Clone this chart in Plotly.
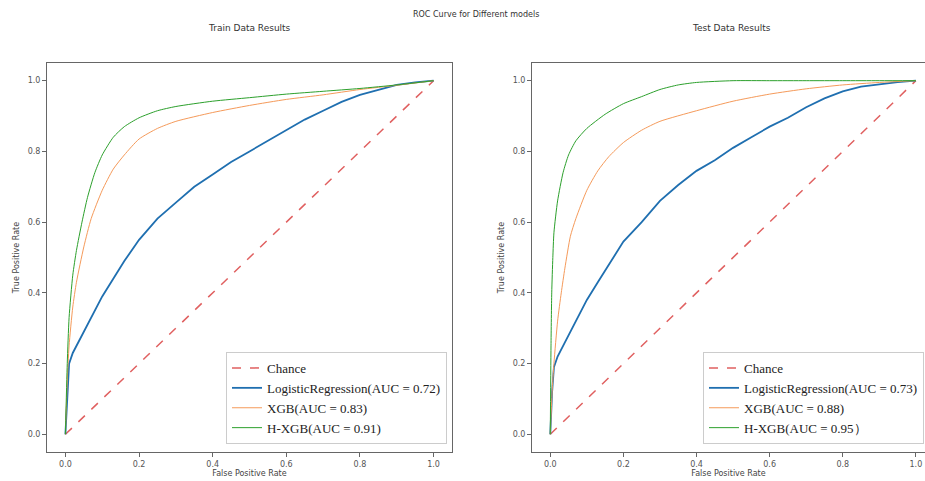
import plotly.graph_objects as go

# ---------------- data ----------------
chance_x = [0.0, 1.0]
chance_y = [0.0, 1.0]

train_lr_fpr = [0, 0.005, 0.01, 0.02, 0.04, 0.06, 0.08, 0.1, 0.13, 0.16, 0.2, 0.25, 0.3, 0.35, 0.4,
                0.45, 0.5, 0.55, 0.6, 0.65, 0.7, 0.75, 0.8, 0.85, 0.9, 0.95, 1.0]
train_lr_tpr = [0, 0.12, 0.2, 0.23, 0.27, 0.31, 0.35, 0.39, 0.44, 0.49, 0.55, 0.61, 0.655, 0.7, 0.735,
                0.77, 0.8, 0.83, 0.86, 0.89, 0.915, 0.94, 0.96, 0.975, 0.988, 0.995, 1.0]
train_xgb_fpr = [0, 0.005, 0.01, 0.02, 0.03, 0.05, 0.07, 0.1, 0.13, 0.16, 0.2, 0.25, 0.3, 0.4, 0.5,
                 0.6, 0.7, 0.8, 0.9, 1.0]
train_xgb_tpr = [0, 0.15, 0.25, 0.36, 0.43, 0.53, 0.61, 0.69, 0.75, 0.79, 0.835, 0.865, 0.885, 0.91, 0.93,
                 0.947, 0.96, 0.975, 0.987, 1.0]
train_hxgb_fpr = [0, 0.005, 0.01, 0.02, 0.03, 0.045, 0.06, 0.08, 0.1, 0.13, 0.16, 0.2, 0.25, 0.3, 0.4,
                  0.5, 0.6, 0.7, 0.8, 0.9, 1.0]
train_hxgb_tpr = [0, 0.2, 0.33, 0.45, 0.52, 0.6, 0.67, 0.74, 0.79, 0.84, 0.87, 0.895, 0.915, 0.927, 0.942,
                  0.952, 0.962, 0.97, 0.978, 0.988, 1.0]

test_lr_fpr = [0, 0.005, 0.01, 0.02, 0.04, 0.06, 0.08, 0.1, 0.13, 0.16, 0.2, 0.25, 0.3, 0.35, 0.4,
               0.45, 0.5, 0.55, 0.6, 0.65, 0.7, 0.75, 0.8, 0.85, 0.9, 0.95, 1.0]
test_lr_tpr = [0, 0.12, 0.19, 0.22, 0.26, 0.3, 0.34, 0.38, 0.43, 0.48, 0.545, 0.6, 0.66, 0.705, 0.745,
               0.775, 0.81, 0.84, 0.87, 0.895, 0.925, 0.95, 0.97, 0.983, 0.99, 0.996, 1.0]
test_xgb_fpr = [0, 0.005, 0.01, 0.02, 0.03, 0.04, 0.055, 0.07, 0.1, 0.13, 0.16, 0.2, 0.25, 0.3, 0.4,
                0.5, 0.6, 0.7, 0.8, 0.9, 1.0]
test_xgb_tpr = [0, 0.12, 0.2, 0.32, 0.4, 0.47, 0.56, 0.61, 0.69, 0.745, 0.785, 0.825, 0.86, 0.885, 0.915,
                0.942, 0.962, 0.977, 0.988, 0.995, 1.0]
test_hxgb_fpr = [0, 0.002, 0.004, 0.007, 0.01, 0.02, 0.035, 0.05, 0.07, 0.1, 0.15, 0.2, 0.25, 0.3, 0.35,
                 0.4, 0.5, 0.6, 0.7, 0.8, 0.9, 1.0]
test_hxgb_tpr = [0, 0.25, 0.4, 0.5, 0.57, 0.66, 0.74, 0.79, 0.83, 0.865, 0.905, 0.935, 0.955, 0.975, 0.988,
                 0.995, 1.0, 1.0, 1.0, 1.0, 1.0, 1.0]

train_names = ["Chance", "LogisticRegression(AUC = 0.72)", "XGB(AUC = 0.83)", "H-XGB(AUC = 0.91)"]
test_names = ["Chance", "LogisticRegression(AUC = 0.73)", "XGB(AUC = 0.88)", "H-XGB(AUC = 0.95）"]
tick_vals = [0.0, 0.2, 0.4, 0.6, 0.8, 1.0]
tick_text = ["0.0", "0.2", "0.4", "0.6", "0.8", "1.0"]

# ---------------- styling ----------------
C_CH = "#e06060"
C_LR = "#1f6fb0"
C_XGB = "#f59a5a"
C_HX = "#2ca02c"
W, H = 925, 481

fig = go.Figure()

def add_panel(xa, ya, lg, names, lr, xgb, hx):
    fig.add_trace(go.Scatter(x=chance_x, y=chance_y, mode="lines", name=names[0], xaxis=xa, yaxis=ya,
                             legend=lg, line=dict(color=C_CH, width=1.5, dash="dash")))
    fig.add_trace(go.Scatter(x=lr[0], y=lr[1], mode="lines", name=names[1], xaxis=xa, yaxis=ya,
                             legend=lg, line=dict(color=C_LR, width=1.8)))
    fig.add_trace(go.Scatter(x=xgb[0], y=xgb[1], mode="lines", name=names[2], xaxis=xa, yaxis=ya,
                             legend=lg, line=dict(color=C_XGB, width=1, shape="spline", smoothing=0.6)))
    fig.add_trace(go.Scatter(x=hx[0], y=hx[1], mode="lines", name=names[3], xaxis=xa, yaxis=ya,
                             legend=lg, line=dict(color=C_HX, width=1, shape="spline", smoothing=0.6)))

add_panel("x", "y", "legend", train_names, (train_lr_fpr, train_lr_tpr),
          (train_xgb_fpr, train_xgb_tpr), (train_hxgb_fpr, train_hxgb_tpr))
add_panel("x2", "y2", "legend2", test_names, (test_lr_fpr, test_lr_tpr),
          (test_xgb_fpr, test_xgb_tpr), (test_hxgb_fpr, test_hxgb_tpr))

tickfont = dict(family="DejaVu Sans", size=8, color="#555")
titlefont = dict(family="DejaVu Sans", size=8, color="#444")
common = dict(showline=True, mirror=True, linecolor="#666", linewidth=1, showgrid=False, zeroline=False,
              ticks="outside", ticklen=4, tickcolor="#666", tickfont=tickfont, tickvals=tick_vals,
              ticktext=tick_text, automargin=False)

legfont = dict(family="Liberation Serif", size=13, color="#222")
ydom = [(H - 452) / H, (H - 63) / H]
fig.update_layout(
    width=W, height=H, margin=dict(l=0, r=0, t=0, b=0, autoexpand=False),
    paper_bgcolor="white", plot_bgcolor="white",
    xaxis=dict(domain=[47 / W, 452 / W], range=[-0.05, 1.05], anchor="y",
               title=dict(text="False Positive Rate", font=titlefont, standoff=2), **common),
    yaxis=dict(domain=ydom, range=[-0.05, 1.05], anchor="x",
               title=dict(text="True Positive Rate", font=titlefont, standoff=6), **common),
    xaxis2=dict(domain=[532 / W, 1.0], range=[-0.05, 1.025], anchor="y2",
                title=dict(text="False Positive Rate", font=titlefont, standoff=2), **common),
    yaxis2=dict(domain=ydom, range=[-0.05, 1.05], anchor="x2",
                title=dict(text="True Positive Rate", font=titlefont, standoff=6), **common),
    legend=dict(x=447 / W, y=(H - 444) / H, xanchor="right", yanchor="bottom", font=legfont,
                bordercolor="#cccccc", borderwidth=1, bgcolor="white", tracegroupgap=0),
    legend2=dict(x=703 / W, y=(H - 444) / H, xanchor="left", yanchor="bottom", font=legfont,
                 bordercolor="#cccccc", borderwidth=1, bgcolor="white", tracegroupgap=0),
    showlegend=True,
    annotations=[
        dict(text="ROC Curve for Different models", x=476 / W, y=(H - 14) / H, xref="paper", yref="paper",
             xanchor="center", yanchor="middle", showarrow=False,
             font=dict(family="DejaVu Sans", size=8, color="#333")),
        dict(text="Train Data Results", x=249 / W, y=(H - 28) / H, xref="paper", yref="paper",
             xanchor="center", yanchor="middle", showarrow=False,
             font=dict(family="DejaVu Sans", size=9, color="#333")),
        dict(text="Test Data Results", x=731 / W, y=(H - 28) / H, xref="paper", yref="paper",
             xanchor="center", yanchor="middle", showarrow=False,
             font=dict(family="DejaVu Sans", size=9, color="#333")),
    ],
)

fig.write_html("out.html", config={"displayModeBar": False},
               post_script="document.body.style.margin='0';document.body.style.padding='0';")
